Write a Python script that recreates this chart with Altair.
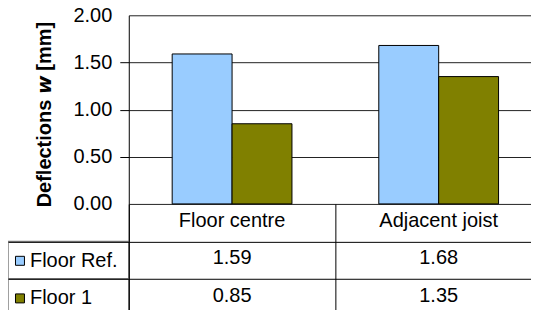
import altair as alt
import pandas as pd

categories = ["Floor centre", "Adjacent joist"]
series = ["Floor Ref.", "Floor 1"]
floor_ref = [1.59, 1.68]
floor_1 = [0.85, 1.35]
colors = ["#99CCFF", "#808000"]
y_ticks = [0.0, 0.5, 1.0, 1.5, 2.0]
y_title = "Deflections \U0001D66C [mm]"
header_row = " "

FONT = "Liberation Sans, Arial, sans-serif"

rows = []
for name, vals in zip(series, [floor_ref, floor_1]):
    for cat, v in zip(categories, vals):
        rows.append({"category": cat, "series": name, "value": v})
bars_df = pd.DataFrame(rows)

table_rows = [{"category": c, "row": header_row, "label": c} for c in categories]
for r in rows:
    table_rows.append({"category": r["category"], "row": r["series"], "label": f"{r['value']:.2f}"})
table_df = pd.DataFrame(table_rows)
cells_df = pd.DataFrame({"row": series})

row_domain = [header_row] + series

bars = alt.Chart(bars_df).mark_bar(stroke="black", strokeWidth=1).encode(
    x=alt.X("category:N", sort=categories, axis=None,
            scale=alt.Scale(paddingInner=0, paddingOuter=0)),
    xOffset=alt.XOffset("series:N", sort=series,
                        scale=alt.Scale(paddingInner=0, paddingOuter=0.725)),
    y=alt.Y("value:Q", scale=alt.Scale(domain=[0, 2], nice=False),
            axis=alt.Axis(values=y_ticks, format=".2f", title=y_title,
                          titleFont=FONT, titleFontSize=20, titleFontWeight="bold",
                          titleColor="black", titlePadding=18, titleY=99,
                          labelFont=FONT, labelFontSize=20, labelColor="black",
                          labelPadding=8, tickSize=9,
                          tickColor={"condition": {"test": "datum.value == 0 || datum.value == 2",
                                                   "value": "transparent"}, "value": "black"},
                          domain=True, domainColor="black",
                          grid=True, gridColor="#222", gridWidth=1)),
    color=alt.Color("series:N", sort=series,
                    scale=alt.Scale(domain=series, range=colors),
                    legend=alt.Legend(title=None, orient="none", legendX=-119, legendY=236,
                                      symbolType="square", symbolSize=81,
                                      symbolStrokeColor="black", symbolStrokeWidth=1,
                                      labelFont=FONT, labelFontSize=20, labelColor="black",
                                      labelOffset=0, rowPadding=17.67, padding=0)),
).properties(width=414, height=189)

base_y = alt.Y("row:N", sort=row_domain, scale=alt.Scale(domain=row_domain, paddingInner=0, paddingOuter=0),
               axis=alt.Axis(values=series, labels=False, title=None,
                             domain=True, domainColor="black",
                             ticks=True, tickSize=121, tickColor="black", tickBand="extent",
                             bandPosition=0, grid=True, gridColor="black", zindex=1))

cells = alt.Chart(cells_df).mark_rect(fill="white", stroke="#808080", strokeWidth=1.5).encode(
    x=alt.value(-121), x2=alt.value(0), y=base_y)

texts = alt.Chart(table_df).mark_text(font=FONT, fontSize=20, color="black", dy=-2).encode(
    x=alt.X("category:N", sort=categories,
            scale=alt.Scale(domain=categories, paddingInner=0, paddingOuter=0),
            axis=alt.Axis(labels=False, ticks=False, domain=False, title=None, grid=True,
                          gridColor="black", tickBand="extent")),
    y=base_y,
    text="label:N")

table = alt.layer(cells, texts).properties(width=414, height=113)

chart = alt.vconcat(bars, table, spacing=0, bounds="flush").properties(
    padding={"top": -3, "left": -1, "right": -11, "bottom": 0}
).configure_view(stroke=None)

chart.save("out.html", embed_options={"renderer": "svg", "actions": False})
